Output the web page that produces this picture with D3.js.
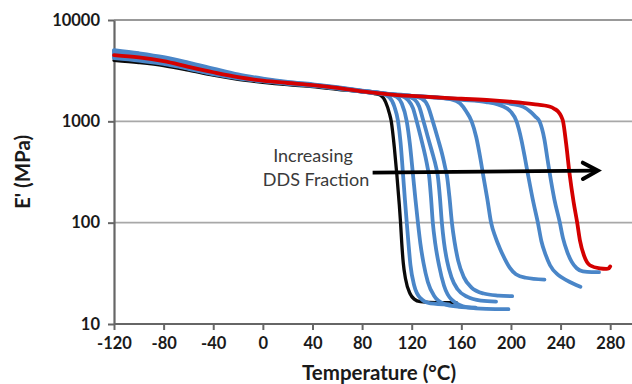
<!DOCTYPE html>
<html>
<head>
<meta charset="utf-8">
<script src="https://cdn.jsdelivr.net/npm/d3@7"></script>
<style>
  html, body { margin: 0; padding: 0; background: #fff; }
  svg { display: block; }
  text { font-family: Lato, "Open Sans", sans-serif; }
</style>
</head>
<body>
<svg id="chart" width="632" height="384"></svg>
<script>
// Storage modulus E' (MPa) versus temperature (°C); each series is [temperature, modulus]
const tempTicks = [-120, -80, -40, 0, 40, 80, 120, 160, 200, 240, 280];
const modulusTicks = [10, 100, 1000, 10000];

const curveBlack = [[-120,4000],[-100,3800],[-80,3550],[-60,3200],[-40,2850],[-20,2600],[0,2430],[20,2300],[40,2200],[60,2070],[80,1950],[90,1880],[95,1800],[99,1550],[102,1200],[103.5,1000],[106,550],[108,300],[110,150],[111,100],[112,62],[113.2,40],[115,28],[118.6,20],[122,17.6],[127,16.6],[140,16.2],[156,16.2]];

const curveBlue1 = [[-120,4950],[-100,4600],[-80,4200],[-60,3700],[-40,3250],[-20,2850],[0,2600],[20,2420],[40,2300],[60,2150],[80,2000],[95,1890],[102,1720],[106,1400],[109,1000],[111,620],[113,300],[114.5,170],[116,100],[117.5,60],[119,38],[122,24],[127,18],[135,16],[150,15.6]];
const curveBlue2 = [[-120,4700],[-100,4400],[-80,4050],[-60,3600],[-40,3180],[-20,2800],[0,2570],[20,2400],[40,2280],[60,2140],[80,1990],[100,1870],[108,1740],[112,1500],[116,1000],[118.5,600],[121,300],[123,170],[125,100],[127,62],[129.5,40],[133,26],[138,19],[146,15.8],[158,14.8],[171.5,14.5]];
const curveBlue3 = [[-120,5050],[-100,4700],[-80,4300],[-60,3800],[-40,3320],[-20,2900],[0,2640],[20,2450],[40,2320],[60,2170],[80,2010],[100,1880],[112,1780],[117,1620],[121,1350],[124,1000],[127,720],[131,450],[133,340],[134,290],[135.5,180],[137,100],[139,62],[142,38],[146,24],[152,17.5],[165,14.6],[180,14.1],[198,14]];
const curveBlue4 = [[-120,4300],[-100,4050],[-80,3750],[-60,3350],[-40,2950],[-20,2680],[0,2500],[20,2360],[40,2250],[60,2110],[80,1970],[100,1860],[115,1770],[122,1650],[126,1400],[129.5,1000],[133,700],[137,470],[139.5,360],[141,290],[142.7,180],[144.3,100],[146,64],[148.5,42],[152,29],[157,22],[165,18.5],[176,17],[188,16.6]];
const curveBlue5 = [[-120,4600],[-100,4300],[-80,3950],[-60,3500],[-40,3100],[-20,2780],[0,2560],[20,2400],[40,2280],[60,2140],[80,1990],[100,1870],[120,1780],[128,1680],[133,1420],[137,1000],[141,680],[145,450],[147,350],[148.4,290],[150.4,180],[152.4,100],[154.5,65],[157.5,42],[162,29],[168,23],[178,20],[190,19.1],[201,18.8]];
const curveBlue6 = [[-120,4200],[-100,3970],[-80,3680],[-60,3300],[-40,2920],[-20,2660],[0,2490],[20,2360],[40,2250],[60,2110],[80,1970],[100,1860],[120,1780],[140,1720],[152,1650],[159,1500],[164,1250],[168.3,1000],[172,700],[175.5,420],[177.5,300],[181,170],[184,100],[187.5,72],[191,56],[195,44],[199,36],[204,31],[212,28.6],[227,27.4]];
const curveBlue7 = [[-120,4850],[-100,4500],[-80,4150],[-60,3650],[-40,3220],[-20,2830],[0,2590],[20,2410],[40,2290],[60,2150],[80,2000],[100,1870],[120,1780],[140,1710],[160,1630],[180,1550],[190,1460],[196,1360],[200,1240],[204.5,1000],[208.5,650],[211.5,420],[213.7,300],[218,160],[221.7,100],[224.5,66],[228,48],[231.5,38],[238,30.5],[245,27],[256,23.3]];
const curveBlue8 = [[-120,4400],[-100,4150],[-80,3820],[-60,3400],[-40,3000],[-20,2720],[0,2530],[20,2380],[40,2270],[60,2130],[80,1980],[100,1860],[120,1780],[140,1720],[160,1660],[180,1590],[200,1490],[210,1390],[215.5,1250],[219.5,1120],[223,1000],[227,660],[229.5,420],[231.4,300],[235,170],[239.4,100],[242,70],[245.5,51],[249,41],[253,35.5],[258,33],[265,32.5],[271,32.5]];

const curveRed = [[-120,4500],[-100,4270],[-80,3920],[-60,3450],[-40,3050],[-20,2730],[0,2520],[20,2390],[40,2280],[60,2140],[80,1980],[100,1860],[120,1780],[140,1720],[160,1670],[183,1620],[200,1560],[218,1480],[231,1400],[235,1330],[238,1250],[240.5,1120],[242,1000],[244.5,600],[247.3,300],[250.5,160],[253.4,100],[255.6,67],[259,47],[263.6,38],[271.7,35.4],[277,35],[279,35.5],[280,37]];

// Annotation arrow endpoints, [temperature, modulus]
const arrowFrom = [88.5, 312];
const arrowTo = [270, 326];
const annotationLines = ["Increasing", "DDS Fraction"];

const svg = d3.select("#chart");
const x = d3.scaleLinear().domain([-120, 300]).range([114, 635]);
const y = d3.scaleLog().domain([10, 10000]).range([324, 20]);

const axisColor = "#666666";

// horizontal gridlines at each decade
svg.append("g").selectAll("line")
  .data(modulusTicks.filter(d => d > 10))
  .join("line")
  .attr("x1", x(-120)).attr("x2", 640)
  .attr("y1", d => y(d)).attr("y2", d => y(d))
  .attr("stroke", d => d === 10000 ? "#777777" : "#a8a8a8")
  .attr("stroke-width", 1.6);

// x axis
const gx = svg.append("g")
  .attr("transform", `translate(0,${y(10)})`)
  .call(d3.axisBottom(x).tickValues(tempTicks).tickFormat(d => String(d)).tickSize(6).tickPadding(7).tickSizeOuter(0));
// y axis
const gy = svg.append("g")
  .attr("transform", `translate(${x(-120)},0)`)
  .call(d3.axisLeft(y).tickValues(modulusTicks).tickFormat(d => String(d)).tickSize(6).tickPadding(8).tickSizeOuter(0));

[gx, gy].forEach(g => {
  g.select(".domain").attr("stroke", axisColor).attr("stroke-width", 2.2);
  g.selectAll(".tick line").attr("stroke", axisColor).attr("stroke-width", 2);
  g.selectAll(".tick text")
    .attr("fill", "#1a1a1a")
    .attr("font-size", 16.5)
    .attr("font-weight", 700)
    .attr("font-family", "Lato, sans-serif");
});
gx.select(".domain").attr("d", `M${x(-120)},0H640`);

// axis titles
svg.append("text")
  .attr("x", 379).attr("y", 380)
  .attr("text-anchor", "middle")
  .attr("font-size", 20.5).attr("font-weight", 700).attr("fill", "#1a1a1a")
  .text("Temperature (°C)");
svg.append("text")
  .attr("transform", `translate(30,${(y(10) + y(10000)) / 2}) rotate(-90)`)
  .attr("text-anchor", "middle")
  .attr("font-size", 20.5).attr("font-weight", 700).attr("fill", "#1a1a1a")
  .text("E' (MPa)");

// modulus curves
const line = d3.line()
  .x(d => x(d[0]))
  .y(d => y(d[1]))
  .curve(d3.curveMonotoneX);

const series = [
  { data: curveBlack, color: "#0a0a0a", width: 3.3 },
  { data: curveBlue1, color: "#4a86c8", width: 3.8 },
  { data: curveBlue2, color: "#4a86c8", width: 3.8 },
  { data: curveBlue3, color: "#4a86c8", width: 3.8 },
  { data: curveBlue4, color: "#4a86c8", width: 3.8 },
  { data: curveBlue5, color: "#4a86c8", width: 3.8 },
  { data: curveBlue6, color: "#4a86c8", width: 3.8 },
  { data: curveBlue7, color: "#4a86c8", width: 3.8 },
  { data: curveBlue8, color: "#4a86c8", width: 3.8 },
  { data: curveRed, color: "#d40000", width: 3.8 }
];

svg.append("g").selectAll("path")
  .data(series)
  .join("path")
  .attr("d", d => line(d.data))
  .attr("fill", "none")
  .attr("stroke", d => d.color)
  .attr("stroke-width", d => d.width)
  .attr("stroke-linejoin", "round")
  .attr("stroke-linecap", "round");

// annotation text and arrow
svg.append("g").selectAll("text")
  .data(annotationLines)
  .join("text")
  .attr("x", (d, i) => i === 0 ? 313 : 316)
  .attr("y", (d, i) => 162 + i * 24)
  .attr("text-anchor", "middle")
  .attr("font-size", 18)
  .attr("fill", "#3a3a3a")
  .text(d => d);

const ax0 = x(arrowFrom[0]), ay0 = y(arrowFrom[1]);
const ax1 = x(arrowTo[0]), ay1 = y(arrowTo[1]);
const ang = Math.atan2(ay1 - ay0, ax1 - ax0);
const headLen = 17, headAng = 0.5;
svg.append("line")
  .attr("x1", ax0).attr("y1", ay0).attr("x2", ax1 - 2).attr("y2", ay1)
  .attr("stroke", "#000").attr("stroke-width", 3.6);
svg.append("path")
  .attr("d", `M${ax1 - headLen * Math.cos(ang - headAng)},${ay1 - headLen * Math.sin(ang - headAng)}L${ax1},${ay1}L${ax1 - headLen * Math.cos(ang + headAng)},${ay1 - headLen * Math.sin(ang + headAng)}`)
  .attr("fill", "none").attr("stroke", "#000").attr("stroke-width", 4)
  .attr("stroke-linejoin", "miter").attr("stroke-linecap", "round");
</script>
</body>
</html>
